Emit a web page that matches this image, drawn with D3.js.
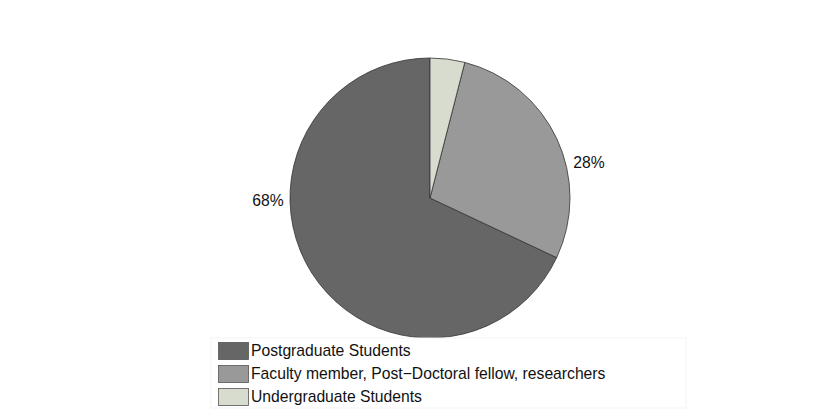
<!DOCTYPE html>
<html>
<head>
<meta charset="utf-8">
<script src="https://cdn.jsdelivr.net/npm/d3@7"></script>
<style>
  body { margin: 0; background: #fff; }
  text { font-family: "Liberation Sans", Arial, Helvetica, sans-serif; }
</style>
</head>
<body>
<div id="container"></div>
<script>
/* DATA */
const categories = ["Postgraduate Students", "Faculty member, Post\u2212Doctoral fellow, researchers", "Undergraduate Students"];
const shares = [68, 28, 4];
const sliceLabels = ["68%", "28%", ""];
const colors = ["#666666", "#999999", "#d8dccf"];

/* CONSTANTS */
const width = 830, height = 412;
const cx = 430, cy = 198, radius = 140;
const fontSize = 15.7;

const svg = d3.select("#container")
  .append("svg")
  .attr("width", width)
  .attr("height", height);

// counter-clockwise from 12 o'clock, like R's pie
const pie = d3.pie()
  .sort(null)
  .value(d => d)
  .startAngle(0)
  .endAngle(-2 * Math.PI);

const arc = d3.arc().innerRadius(0).outerRadius(radius);
const arcs = pie(shares);

const g = svg.append("g").attr("transform", `translate(${cx},${cy})`);

g.selectAll("path")
  .data(arcs)
  .join("path")
  .attr("d", arc)
  .attr("fill", (d, i) => colors[i])
  .attr("stroke", "#333")
  .attr("stroke-width", 0.8);

// labels sit just outside the rim
const labelPos = [
  { angle: -91 * Math.PI / 180, r: radius * 1.045, anchor: "end" },
  { angle: 76 * Math.PI / 180, r: radius * 1.055, anchor: "start" }
];
labelPos.forEach((p, i) => {
  const [x, y] = d3.pointRadial(p.angle, p.r);
  g.append("text")
    .attr("x", x)
    .attr("y", y)
    .attr("dy", "0.35em")
    .attr("text-anchor", p.anchor)
    .attr("font-size", fontSize)
    .attr("fill", "#111")
    .text(sliceLabels[i]);
});

/* LEGEND */
const legend = svg.append("g").attr("transform", "translate(211,338)");
legend.append("rect")
  .attr("width", 475)
  .attr("height", 70)
  .attr("fill", "#fff")
  .attr("stroke", "#f3f3f3");

const rowY = d3.scaleBand().domain(d3.range(categories.length)).range([3, 72]);

const rows = legend.selectAll("g.row")
  .data(categories)
  .join("g")
  .attr("class", "row")
  .attr("transform", (d, i) => `translate(0,${rowY(i)})`);

rows.append("rect")
  .attr("x", 7.5)
  .attr("y", 1.5)
  .attr("width", 30)
  .attr("height", 17)
  .attr("fill", (d, i) => colors[i])
  .attr("stroke", "#555")
  .attr("stroke-width", 0.8);

rows.append("text")
  .attr("x", 40)
  .attr("y", 10)
  .attr("dy", "0.35em")
  .attr("font-size", fontSize)
  .attr("fill", "#111")
  .text(d => d);
</script>
</body>
</html>
